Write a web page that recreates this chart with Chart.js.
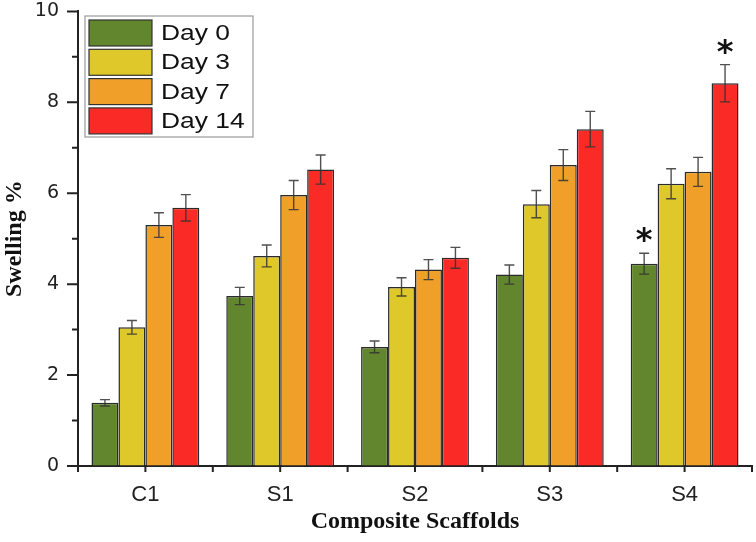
<!DOCTYPE html>
<html>
<head>
<meta charset="utf-8">
<script src="https://cdn.jsdelivr.net/npm/chart.js@4.4.1/dist/chart.umd.min.js"></script>
<style>
    body { margin: 0; background: #fff; }
    #wrap { width: 756px; height: 542px; }
</style>
</head>
<body>
<div id="wrap"><canvas id="swelling_bar" width="756" height="542"></canvas></div>
<script>
const labels = ['C1', 'S1', 'S2', 'S3', 'S4'];
const series_names = ['Day 0', 'Day 3', 'Day 7', 'Day 14'];

const day0 = [1.39, 3.74, 2.62, 4.21, 4.45];
const day3 = [3.05, 4.62, 3.94, 5.76, 6.21];
const day7 = [5.30, 5.96, 4.32, 6.62, 6.47];
const day14 = [5.68, 6.52, 4.58, 7.41, 8.42];

const err0 = [0.07, 0.19, 0.13, 0.21, 0.23];
const err3 = [0.15, 0.24, 0.20, 0.30, 0.33];
const err7 = [0.27, 0.32, 0.22, 0.34, 0.32];
const err14 = [0.29, 0.32, 0.23, 0.39, 0.41];

// significance marks drawn above the error bar
const sig0 = ['', '', '', '', '*'];
const sig3 = ['', '', '', '', ''];
const sig7 = ['', '', '', '', ''];
const sig14 = ['', '', '', '', '*'];

const y_ticks = [0, 2, 4, 6, 8, 10];

const colors = ['#62862e', '#dec82a', '#f0a028', '#fa2a26'];

// error bars + asterisks
const errorBars = {
    id: 'errorBars',
    afterDatasetsDraw(chart) {
        const ctx = chart.ctx;
        const y = chart.scales.y;
        chart.data.datasets.forEach((ds, i) => {
            const meta = chart.getDatasetMeta(i);
            meta.data.forEach((bar, j) => {
                const v = ds.data[j], e = ds.errors[j];
                const top = y.getPixelForValue(v + e);
                const bot = y.getPixelForValue(v - e);
                ctx.save();
                ctx.strokeStyle = 'rgba(50,50,50,0.85)';
                ctx.lineWidth = 1.4;
                ctx.beginPath();
                ctx.moveTo(bar.x, top); ctx.lineTo(bar.x, bot);
                ctx.moveTo(bar.x - 5, top); ctx.lineTo(bar.x + 5, top);
                ctx.moveTo(bar.x - 5, bot); ctx.lineTo(bar.x + 5, bot);
                ctx.stroke();
                if (ds.sig[j]) {
                    ctx.fillStyle = '#111';
                    ctx.font = 'bold 32px "DejaVu Sans"';
                    ctx.textAlign = 'center';
                    ctx.textBaseline = 'alphabetic';
                    ctx.fillText(ds.sig[j], bar.x, top - 3);
                }
                ctx.restore();
            });
        });
    }
};

// tick marks like the original (major + minor)
const axisTicks = {
    id: 'axisTicks',
    afterDraw(chart) {
        const ctx = chart.ctx;
        const y = chart.scales.y;
        const area = chart.chartArea;
        ctx.save();
        ctx.strokeStyle = '#222';
        ctx.lineWidth = 2;
        ctx.beginPath();
        for (let v = 0; v <= 10; v++) {
            const py = y.getPixelForValue(v);
            const len = v % 2 === 0 ? 11 : 6;
            ctx.moveTo(area.left - len, py); ctx.lineTo(area.left, py);
        }
        const step = (area.right - area.left) / (labels.length * 2);
        for (let k = 0; k <= labels.length * 2; k++) {
            const px = area.left + k * step;
            ctx.moveTo(px, area.bottom); ctx.lineTo(px, area.bottom + 6);
        }
        ctx.moveTo(area.left, area.bottom); ctx.lineTo(area.left, area.bottom + 4);
        ctx.stroke();
        ctx.restore();
    }
};

// legend box inside the plot
const boxLegend = {
    id: 'boxLegend',
    afterDraw(chart) {
        const ctx = chart.ctx;
        const bx = 85, by = 16, bw = 168, bh = 121;
        ctx.save();
        ctx.fillStyle = '#fff';
        ctx.fillRect(bx, by, bw, bh);
        ctx.strokeStyle = '#9a9a9a';
        ctx.lineWidth = 1.2;
        ctx.strokeRect(bx, by, bw, bh);
        chart.data.datasets.forEach((ds, i) => {
            const ry = by + 4 + i * 29.3;
            ctx.fillStyle = ds.backgroundColor;
            ctx.fillRect(bx + 4, ry, 63, 26);
            ctx.strokeStyle = '#333';
            ctx.lineWidth = 1.2;
            ctx.strokeRect(bx + 4, ry, 63, 26);
            // text in the original is a bit stretched sideways
            ctx.save();
            ctx.translate(bx + 76, ry + 14);
            ctx.scale(1.2, 1);
            ctx.fillStyle = '#111';
            ctx.font = '22px "Liberation Sans"';
            ctx.textAlign = 'left';
            ctx.textBaseline = 'middle';
            ctx.fillText(ds.label, 0, 0);
            ctx.restore();
        });
        ctx.restore();
    }
};

const values = [day0, day3, day7, day14];
const errors = [err0, err3, err7, err14];
const sigs = [sig0, sig3, sig7, sig14];

const swelling_bar = document.getElementById('swelling_bar').getContext('2d');
new Chart(swelling_bar, {
    type: 'bar',
    data: {
        labels: labels,
        datasets: series_names.map((name, i) => ({
            label: name,
            data: values[i],
            errors: errors[i],
            sig: sigs[i],
            backgroundColor: colors[i],
            borderColor: '#2a2a2a',
            borderWidth: 1.5,
            categoryPercentage: 0.8,
            barPercentage: 1.0
        }))
    },
    options: {
        responsive: false,
        animation: false,
        layout: { padding: { top: 11, right: 4, bottom: 0, left: 0 } },
        plugins: {
            legend: { display: false },
            tooltip: { enabled: false },
            title: { display: false }
        },
        scales: {
            x: {
                grid: { display: false, drawTicks: false },
                border: { display: true, color: '#222', width: 2 },
                ticks: {
                    color: '#222',
                    font: { family: 'Liberation Sans', size: 22 },
                    padding: 16
                },
                title: {
                    display: true,
                    text: 'Composite Scaffolds',
                    color: '#111',
                    font: { family: 'Liberation Serif', size: 24, weight: 'bold' },
                    padding: { top: 0, bottom: 6 }
                },
                afterFit(scale) { scale.height = 76; }
            },
            y: {
                min: 0,
                max: 10,
                grid: {
                    display: true,
                    drawOnChartArea: false,
                    drawTicks: true,
                    tickLength: 19,
                    color: 'rgba(0,0,0,0)',
                    tickColor: 'rgba(0,0,0,0)'
                },
                border: { display: true, color: '#222', width: 2 },
                afterBuildTicks(scale) { scale.ticks = y_ticks.map(v => ({ value: v })); },
                ticks: {
                    color: '#222',
                    font: { family: 'DejaVu Sans', size: 19 },
                    padding: 0
                },
                title: {
                    display: true,
                    text: 'Swelling %',
                    color: '#111',
                    font: { family: 'Liberation Serif', size: 24, weight: 'bold' },
                    padding: { top: 0, bottom: 0 }
                },
                afterFit(scale) { scale.width = 78; }
            }
        }
    },
    plugins: [errorBars, axisTicks, boxLegend]
});
</script>
</body>
</html>
